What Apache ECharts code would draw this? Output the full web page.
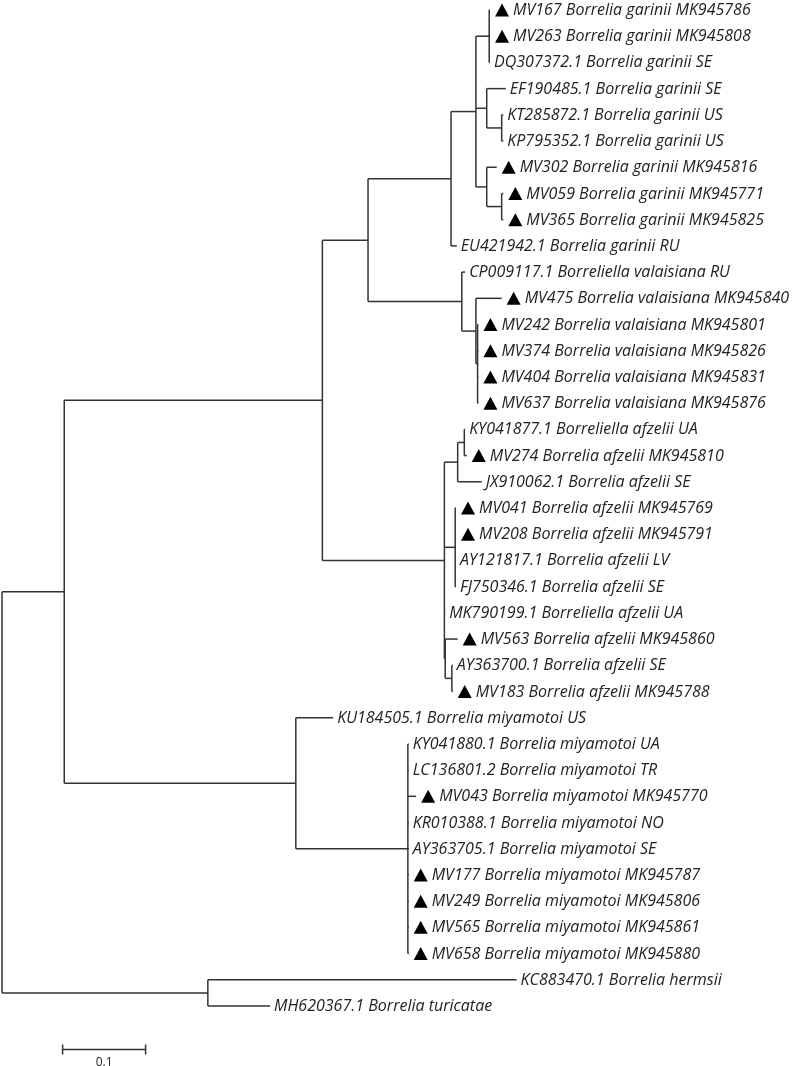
<!DOCTYPE html>
<html><head><meta charset="utf-8">
<script src="https://cdn.jsdelivr.net/npm/echarts@6/dist/echarts.min.js"></script>
<style>html,body{margin:0;padding:0;background:#fff}#c{width:797px;height:1066px}</style>
</head><body><div id="c"></div>
<script>
// ---- leaves (top to bottom) ----
const leafLabels = [
  'MV167 Borrelia garinii MK945786','MV263 Borrelia garinii MK945808','DQ307372.1 Borrelia garinii SE',
  'EF190485.1 Borrelia garinii SE','KT285872.1 Borrelia garinii US','KP795352.1 Borrelia garinii US',
  'MV302 Borrelia garinii MK945816','MV059 Borrelia garinii MK945771','MV365 Borrelia garinii MK945825',
  'EU421942.1 Borrelia garinii RU','CP009117.1 Borreliella valaisiana RU','MV475 Borrelia valaisiana MK945840',
  'MV242 Borrelia valaisiana MK945801','MV374 Borrelia valaisiana MK945826','MV404 Borrelia valaisiana MK945831',
  'MV637 Borrelia valaisiana MK945876','KY041877.1 Borreliella afzelii UA','MV274 Borrelia afzelii MK945810',
  'JX910062.1 Borrelia afzelii SE','MV041 Borrelia afzelii MK945769','MV208 Borrelia afzelii MK945791',
  'AY121817.1 Borrelia afzelii LV','FJ750346.1 Borrelia afzelii SE','MK790199.1 Borreliella afzelii UA',
  'MV563 Borrelia afzelii MK945860','AY363700.1 Borrelia afzelii SE','MV183 Borrelia afzelii MK945788',
  'KU184505.1 Borrelia miyamotoi US','KY041880.1 Borrelia miyamotoi UA','LC136801.2 Borrelia miyamotoi TR',
  'MV043 Borrelia miyamotoi MK945770','KR010388.1 Borrelia miyamotoi NO','AY363705.1 Borrelia miyamotoi SE',
  'MV177 Borrelia miyamotoi MK945787','MV249 Borrelia miyamotoi MK945806','MV565 Borrelia miyamotoi MK945861',
  'MV658 Borrelia miyamotoi MK945880','KC883470.1 Borrelia hermsii','MH620367.1 Borrelia turicatae'
];
const leafParents = [
  'G1','G1','G1','G2','G2B','G2B','G3','G3B','G3B','GAR',
  'VAL','V2','V2B','V2B','V2B','V2B',
  'A1','A1','A2','A3','A3','A3','A3','AFZ','A4','A5','A5',
  'MIY','M2','M2','M2','M2','M2','M2','M2','M2','M2',
  'RF','RF'
];
// distance from root (substitutions per site)
const leafDepths = [
  0.588,0.588,0.588,0.607,0.604,0.604,0.596,0.604,0.604,0.548,
  0.558,0.602,0.574,0.574,0.574,0.574,
  0.558,0.560,0.578,0.547,0.547,0.547,0.547,0.534,0.549,0.543,0.543,
  0.399,0.490,0.490,0.499,0.490,0.490,0.490,0.490,0.490,0.490,
  0.620,0.323
];
const leafMarked = [
  1,1,0,0,0,0,1,1,1,0,
  0,1,1,1,1,1,
  0,1,0,1,1,0,0,0,1,0,1,
  0,0,0,1,0,0,1,1,1,1,
  0,0
];
// ---- internal nodes ----
const nodeNames   = ['root','A','LB','GV','GAR','GSUB','G1','G2','G2B','G3','G3B','VAL','V2','V2B','AFZ','A2','A1','A3','A4','A5','MIY','M2','RF'];
const nodeParents = [null,'root','A','LB','GV','GAR','GSUB','GSUB','G2','GSUB','G3','GV','VAL','V2','LB','AFZ','A2','AFZ','AFZ','A4','A','MIY','root'];
const nodeDepths  = [0,0.075,0.386,0.441,0.541,0.571,0.587,0.584,0.602,0.584,0.602,0.554,0.571,0.573,0.533,0.549,0.557,0.546,0.534,0.542,0.354,0.489,0.248];
const scaleBarLength = 0.1;
const scaleBarLabel = '0.1';

// ---- build tree ----
const depth = {}, parent = {}, children = {};
nodeNames.forEach((n, i) => { depth[n] = nodeDepths[i]; parent[n] = nodeParents[i]; children[n] = []; });
leafLabels.forEach((l, i) => { const id = 'L' + i; depth[id] = leafDepths[i]; parent[id] = leafParents[i]; children[id] = null; });
const added = new Set();
leafLabels.forEach((l, i) => {
  let id = 'L' + i;
  while (parent[id] && !added.has(id)) { children[parent[id]].push(id); added.add(id); id = parent[id]; }
});
const yPos = {};
function computeY(id) {
  if (children[id] === null) return (yPos[id] = +id.slice(1));
  const ys = children[id].map(computeY);
  return (yPos[id] = (ys[0] + ys[ys.length - 1]) / 2);
}
computeY('root');
const segs = [];
Object.keys(depth).forEach(id => {
  if (parent[id]) segs.push([depth[parent[id]], yPos[id], depth[id], yPos[id]]);
  if (children[id] && children[id].length) {
    const c = children[id];
    segs.push([depth[id], yPos[c[0]], depth[id], yPos[c[c.length - 1]]]);
  }
});
const leafData = leafLabels.map((l, i) => [leafDepths[i], i, leafMarked[i]]);

const LINE = '#333';
const FONT = '"Open Sans", "Noto Sans", sans-serif';
const chart = echarts.init(document.getElementById('c'), null, { renderer: 'canvas' });
chart.setOption({
  animation: false,
  backgroundColor: '#fff',
  grid: { left: 2, top: 10, width: 747, height: 996 },
  xAxis: { type: 'value', min: 0, max: 0.9, show: false },
  yAxis: { type: 'value', min: 0, max: leafLabels.length - 1, inverse: true, show: false },
  series: [
    {
      type: 'custom', data: segs, encode: { x: [0, 2], y: [1, 3] }, silent: true,
      renderItem: (params, api) => {
        const p1 = api.coord([api.value(0), api.value(1)]);
        const p2 = api.coord([api.value(2), api.value(3)]);
        return { type: 'line', shape: { x1: p1[0], y1: p1[1], x2: p2[0], y2: p2[1] },
          style: { stroke: LINE, lineWidth: 1.5 } };
      }
    },
    {
      type: 'custom', data: leafData, encode: { x: 0, y: 1 }, silent: true,
      renderItem: (params, api) => {
        const p = api.coord([api.value(0), api.value(1)]);
        const els = [];
        let tx = p[0] + 4;
        if (api.value(2)) {
          els.push({ type: 'polygon', shape: { points: [[p[0] + 5, p[1] + 6.5], [p[0] + 19, p[1] + 6.5], [p[0] + 12, p[1] - 6.5]] },
            style: { fill: '#000' } });
          tx = p[0] + 23;
        }
        els.push({ type: 'text', style: { text: leafLabels[params.dataIndex], x: tx, y: p[1] + 0.5,
          verticalAlign: 'middle', align: 'left', fontStyle: 'italic', fontSize: 16, fontFamily: FONT, fill: '#222' } });
        return { type: 'group', children: els };
      }
    },
    {
      type: 'custom', data: [[scaleBarLength]], silent: true,
      renderItem: (params, api) => {
        const y = leafLabels.length + 0.66;
        const a = api.coord([0.073, y]);
        const b = api.coord([0.073 + api.value(0), y]);
        return { type: 'group', children: [
          { type: 'line', shape: { x1: a[0], y1: a[1], x2: b[0], y2: b[1] }, style: { stroke: LINE, lineWidth: 1.5 } },
          { type: 'line', shape: { x1: a[0], y1: a[1] - 5, x2: a[0], y2: a[1] + 5 }, style: { stroke: LINE, lineWidth: 1.5 } },
          { type: 'line', shape: { x1: b[0], y1: b[1] - 5, x2: b[0], y2: b[1] + 5 }, style: { stroke: LINE, lineWidth: 1.5 } },
          { type: 'text', style: { text: scaleBarLabel, x: (a[0] + b[0]) / 2, y: a[1] + 7, align: 'center', verticalAlign: 'top',
            fontSize: 12, fontFamily: FONT, fill: '#222' } }
        ] };
      }
    }
  ]
});
</script></body></html>
